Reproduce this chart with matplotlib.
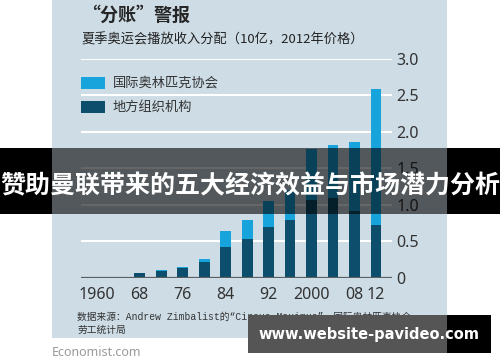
#!/usr/bin/env python

import numpy as np
import matplotlib
matplotlib.use("Agg")
import matplotlib.pyplot as plt
from matplotlib.patches import Rectangle

W, H = 500, 362
CJK = ['Noto Sans CJK SC', 'DejaVu Sans']

years = [1960, 1964, 1968, 1972, 1976, 1980, 1984, 1988,
         1992, 1996, 2000, 2004, 2008, 2012]
local_org = [0.015, 0.015, 0.07, 0.095, 0.13, 0.215, 0.425, 0.525,
             0.70, 0.79, 1.06, 1.09, 0.91, 0.72]
ioc = [0.0, 0.0, 0.0, 0.01, 0.02, 0.04, 0.21, 0.26,
       0.35, 0.41, 0.71, 0.73, 0.95, 1.87]
tick_idx = [0, 2, 4, 6, 8, 10, 12, 13]
tick_labels = ['1960', '68', '76', '84', '92', '2000', '08', '12']
yticks = [0, 0.5, 1.0, 1.5, 2.0, 2.5, 3.0]
ytick_labels = ['0', '0.5', '1.0', '1.5', '2.0', '2.5', '3.0']
series_names = ['国际奥林匹克协会', '地方组织机构']

LIGHT = '#17a3dc'
DARK = '#0c4e6b'
PANEL = '#cddce5'


def fx(x):
    return x / W


def fy(y):
    return 1 - y / H


def rect(fig, x0, y0, x1, y1, **kw):
    fig.patches.append(Rectangle((fx(x0), fy(y1)), fx(x1 - x0), (y1 - y0) / H,
                                 transform=fig.transFigure, **kw))


fig = plt.figure(figsize=(W / 100, H / 100), dpi=100)
fig.patch.set_facecolor('white')

# background panel
rect(fig, 52, 0, 447, 338, facecolor=PANEL, edgecolor='none', zorder=-10)

ax = fig.add_axes([fx(81), fy(277.7), fx(392 - 81), (277.7 - 59) / H])
ax.set_facecolor('none')
x = np.arange(len(years))
ax.bar(x, local_org, width=0.5, color=DARK, zorder=3)
ax.bar(x, ioc, width=0.5, bottom=local_org, color=LIGHT, zorder=3)
ax.set_xlim(-0.73, len(years) - 1 + 0.74)
ax.set_ylim(0, 3.0)
for v in yticks[1:]:
    ax.axhline(v, color='white', lw=1.5, zorder=1)
ax.axhline(0, color='#5a5f63', lw=1.6, zorder=4)
for s in ax.spines.values():
    s.set_visible(False)
ax.set_xticks(tick_idx)
ax.set_xticklabels(tick_labels, fontsize=11.5, color='#333333', family='Noto Sans')
ax.tick_params(axis='x', length=0, pad=7)
ax.yaxis.tick_right()
ax.set_yticks(yticks)
ax.set_yticklabels(ytick_labels, fontsize=11.5, color='#333333', family='Noto Sans')
ax.tick_params(axis='y', length=0, pad=3)

# titles
fig.text(fx(82), fy(15), '“分账”警报', fontsize=13, fontweight='bold',
         family=CJK, color='#262626', va='center')
fig.text(fx(82), fy(40), '夏季奥运会播放收入分配（10亿，2012年价格）', fontsize=9.5,
         family=CJK, color='#222222', va='center')

# legend
for i, (name, col) in enumerate(zip(series_names, [LIGHT, DARK])):
    y0 = 77 + i * 24
    rect(fig, 81, y0, 105, y0 + 12, facecolor=col, edgecolor='none', zorder=2)
    fig.text(fx(113), fy(y0 + 6), name, fontsize=9.5, family=CJK,
             color='#333333', va='center')

# source
fig.text(fx(77), fy(317), '数据来源：Andrew Zimbalist的“Circus Maximus”、国际奥林匹克协会、',
         fontsize=7, family=['Liberation Mono', 'Noto Sans CJK SC'],
         color='#333333', va='center')
fig.text(fx(77), fy(330), '劳工统计局', fontsize=7, family=CJK,
         color='#333333', va='center')
fig.text(fx(52), fy(352), 'Economist.com', fontsize=9, family='Noto Sans',
         color='#999999', va='center')

# banner overlay
rect(fig, 0, 148, 52, 214, facecolor='black', edgecolor='none', zorder=5)
rect(fig, 447, 148, 500, 214, facecolor='black', edgecolor='none', zorder=5)
rect(fig, 52, 148, 447, 214, facecolor='black', alpha=0.6, edgecolor='none', zorder=5)
fig.text(fx(250), fy(186), '赞助曼联带来的五大经济效益与市场潜力分析', fontsize=18,
         fontweight='bold', family=CJK, color='white', ha='center', va='center',
         zorder=6)

# watermark
rect(fig, 248, 315, 447, 353, facecolor='#555555', edgecolor='none', zorder=5)
rect(fig, 447, 315, 491, 353, facecolor='black', edgecolor='none', zorder=5)
fig.text(fx(369), fy(335), 'www.website-pavideo.com', fontsize=10.5,
         fontweight='bold', family='DejaVu Sans', color='white',
         ha='center', va='center', zorder=6)

fig.savefig('out.png', dpi=100)
